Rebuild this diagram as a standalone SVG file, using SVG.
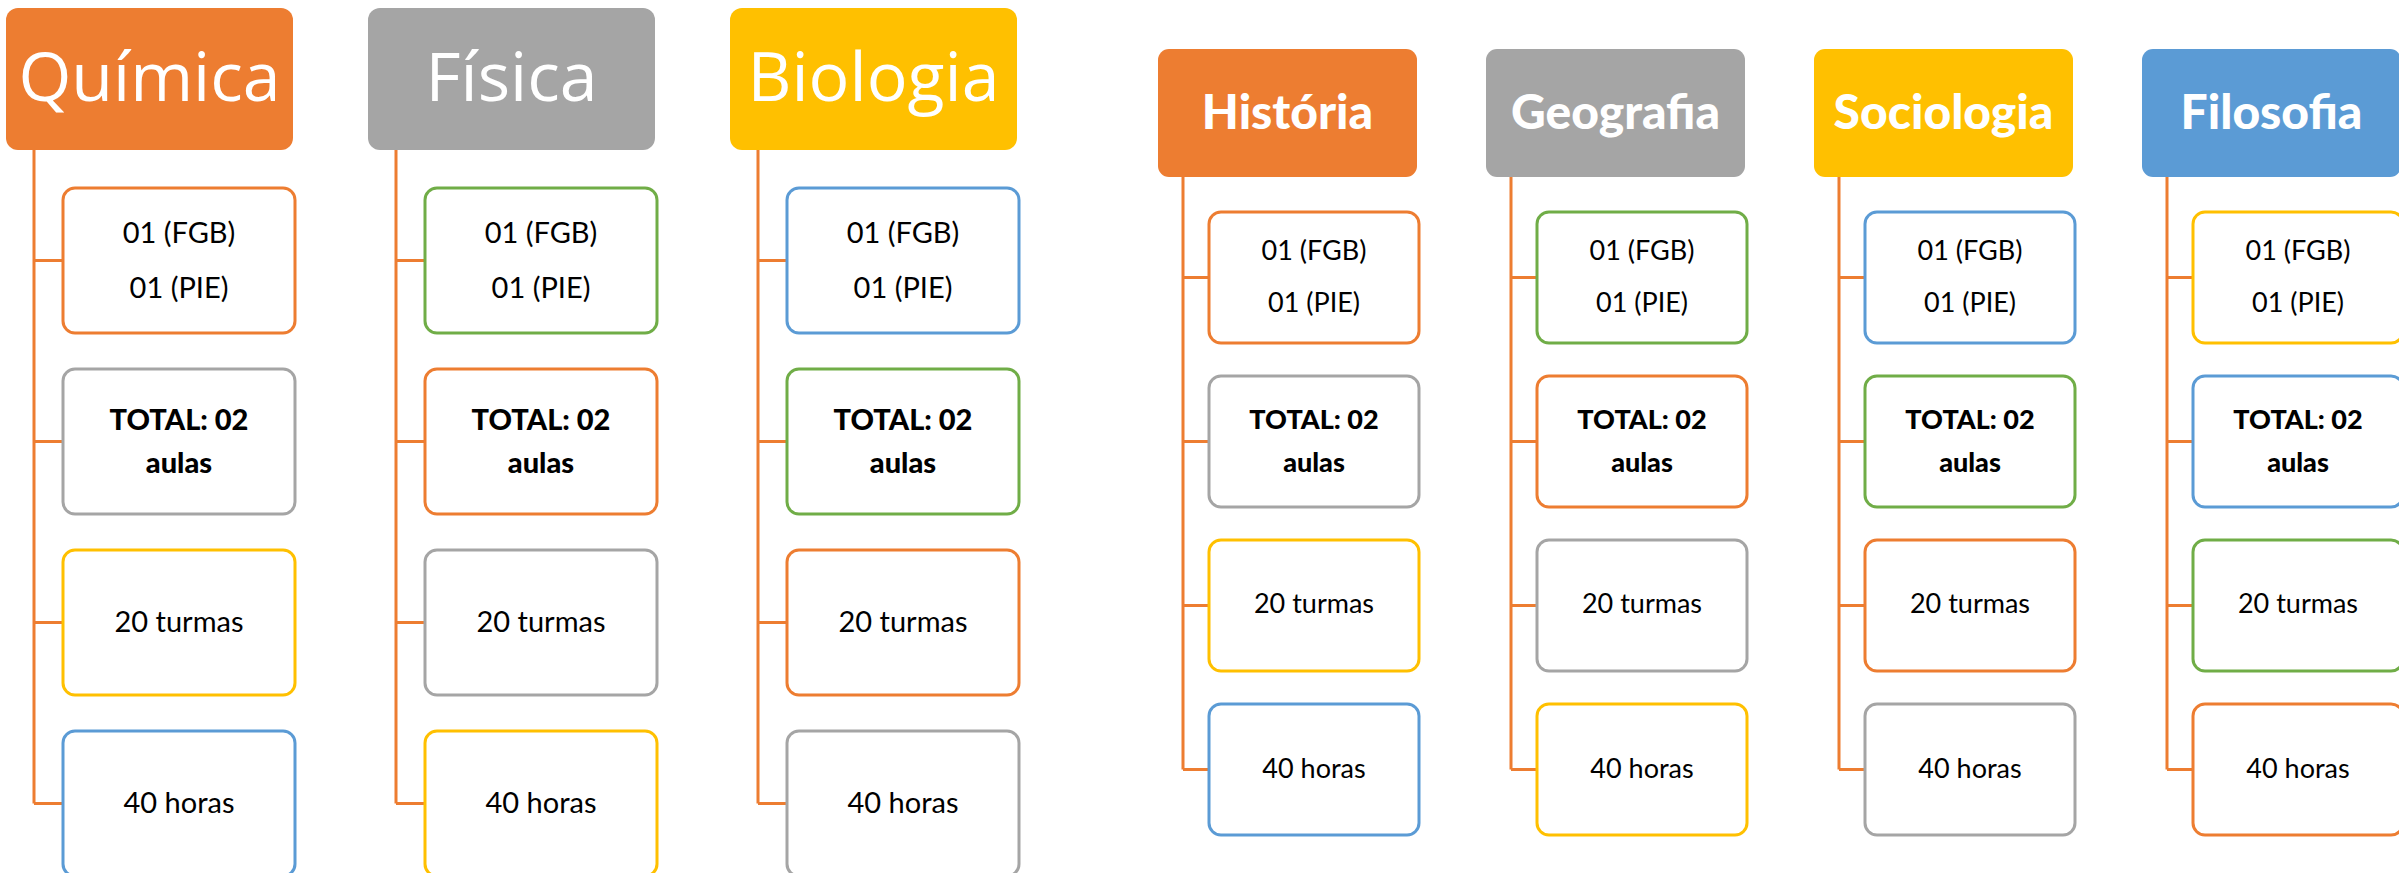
<svg xmlns="http://www.w3.org/2000/svg" width="2399" height="873" viewBox="0 0 2399 873">
<style>
.bg{fill:#ffffff}
.o{stroke:#ED7D31}.g{stroke:#A5A5A5}.y{stroke:#FFC000}.b{stroke:#5B9BD5}.gr{stroke:#70AD47}
.fo{fill:#ED7D31}.fg{fill:#A5A5A5}.fy{fill:#FFC000}.fb{fill:#5B9BD5}
.box{fill:#ffffff;stroke-width:3}
.ln{stroke:#ED7D31;stroke-width:3;fill:none}
.h1{font-family:"Open Sans","Noto Sans",sans-serif;font-size:68px;fill:#ffffff;text-anchor:middle}
.h2{font-family:Lato,"Noto Sans",sans-serif;font-weight:900;font-size:48px;fill:#ffffff;text-anchor:middle}
.t1{font-family:Lato,"Noto Sans",sans-serif;font-size:29px;fill:#000000;text-anchor:middle}
.t2{font-family:Lato,"Noto Sans",sans-serif;font-size:27px;fill:#000000;text-anchor:middle}
.bd{font-weight:900}
</style>
<rect class="bg" x="0" y="0" width="2399" height="873"/>
<g id="connectors">
<path class="ln" d="M34 150V803.5M34 260.5H63M34 441.5H63M34 622.5H63M34 803.5H63"/>
<path class="ln" d="M396 150V803.5M396 260.5H425M396 441.5H425M396 622.5H425M396 803.5H425"/>
<path class="ln" d="M758 150V803.5M758 260.5H787M758 441.5H787M758 622.5H787M758 803.5H787"/>
<path class="ln" d="M1183 177V769.5M1183 277.5H1209M1183 441.5H1209M1183 605.5H1209M1183 769.5H1209"/>
<path class="ln" d="M1511 177V769.5M1511 277.5H1537M1511 441.5H1537M1511 605.5H1537M1511 769.5H1537"/>
<path class="ln" d="M1839 177V769.5M1839 277.5H1865M1839 441.5H1865M1839 605.5H1865M1839 769.5H1865"/>
<path class="ln" d="M2167 177V769.5M2167 277.5H2193M2167 441.5H2193M2167 605.5H2193M2167 769.5H2193"/>
</g>
<g id="quimica">
<rect class="fo" x="6" y="8" width="287" height="142" rx="12"/>
<text class="h1" x="149.5" y="101">Química</text>
</g>
<g id="quimica-1"><rect class="box o" x="63" y="188" width="232" height="145" rx="12"/><text class="t1" x="179" y="243">01 (FGB)</text><text class="t1" x="179" y="298">01 (PIE)</text></g>
<g id="quimica-2"><rect class="box g" x="63" y="369" width="232" height="145" rx="12"/><text class="t1 bd" x="179" y="430">TOTAL: 02</text><text class="t1 bd" x="179" y="473">aulas</text></g>
<g id="quimica-3"><rect class="box y" x="63" y="550" width="232" height="145" rx="12"/><text class="t1" x="179" y="632">20 turmas</text></g>
<g id="quimica-4"><rect class="box b" x="63" y="731" width="232" height="145" rx="12"/><text class="t1" x="179" y="813">40 horas</text></g>
<g id="fisica">
<rect class="fg" x="368" y="8" width="287" height="142" rx="12"/>
<text class="h1" x="511.5" y="101">Física</text>
</g>
<g id="fisica-1"><rect class="box gr" x="425" y="188" width="232" height="145" rx="12"/><text class="t1" x="541" y="243">01 (FGB)</text><text class="t1" x="541" y="298">01 (PIE)</text></g>
<g id="fisica-2"><rect class="box o" x="425" y="369" width="232" height="145" rx="12"/><text class="t1 bd" x="541" y="430">TOTAL: 02</text><text class="t1 bd" x="541" y="473">aulas</text></g>
<g id="fisica-3"><rect class="box g" x="425" y="550" width="232" height="145" rx="12"/><text class="t1" x="541" y="632">20 turmas</text></g>
<g id="fisica-4"><rect class="box y" x="425" y="731" width="232" height="145" rx="12"/><text class="t1" x="541" y="813">40 horas</text></g>
<g id="biologia">
<rect class="fy" x="730" y="8" width="287" height="142" rx="12"/>
<text class="h1" x="873.5" y="101">Biologia</text>
</g>
<g id="biologia-1"><rect class="box b" x="787" y="188" width="232" height="145" rx="12"/><text class="t1" x="903" y="243">01 (FGB)</text><text class="t1" x="903" y="298">01 (PIE)</text></g>
<g id="biologia-2"><rect class="box gr" x="787" y="369" width="232" height="145" rx="12"/><text class="t1 bd" x="903" y="430">TOTAL: 02</text><text class="t1 bd" x="903" y="473">aulas</text></g>
<g id="biologia-3"><rect class="box o" x="787" y="550" width="232" height="145" rx="12"/><text class="t1" x="903" y="632">20 turmas</text></g>
<g id="biologia-4"><rect class="box g" x="787" y="731" width="232" height="145" rx="12"/><text class="t1" x="903" y="813">40 horas</text></g>
<g id="historia">
<rect class="fo" x="1158" y="49" width="259" height="128" rx="11"/>
<text class="h2" x="1287.5" y="129">História</text>
</g>
<g id="historia-1"><rect class="box o" x="1209" y="212" width="210" height="131" rx="12"/><text class="t2" x="1314" y="260">01 (FGB)</text><text class="t2" x="1314" y="312">01 (PIE)</text></g>
<g id="historia-2"><rect class="box g" x="1209" y="376" width="210" height="131" rx="12"/><text class="t2 bd" x="1314" y="429">TOTAL: 02</text><text class="t2 bd" x="1314" y="472">aulas</text></g>
<g id="historia-3"><rect class="box y" x="1209" y="540" width="210" height="131" rx="12"/><text class="t2" x="1314" y="613">20 turmas</text></g>
<g id="historia-4"><rect class="box b" x="1209" y="704" width="210" height="131" rx="12"/><text class="t2" x="1314" y="778">40 horas</text></g>
<g id="geografia">
<rect class="fg" x="1486" y="49" width="259" height="128" rx="11"/>
<text class="h2" x="1615.5" y="129">Geografia</text>
</g>
<g id="geografia-1"><rect class="box gr" x="1537" y="212" width="210" height="131" rx="12"/><text class="t2" x="1642" y="260">01 (FGB)</text><text class="t2" x="1642" y="312">01 (PIE)</text></g>
<g id="geografia-2"><rect class="box o" x="1537" y="376" width="210" height="131" rx="12"/><text class="t2 bd" x="1642" y="429">TOTAL: 02</text><text class="t2 bd" x="1642" y="472">aulas</text></g>
<g id="geografia-3"><rect class="box g" x="1537" y="540" width="210" height="131" rx="12"/><text class="t2" x="1642" y="613">20 turmas</text></g>
<g id="geografia-4"><rect class="box y" x="1537" y="704" width="210" height="131" rx="12"/><text class="t2" x="1642" y="778">40 horas</text></g>
<g id="sociologia">
<rect class="fy" x="1814" y="49" width="259" height="128" rx="11"/>
<text class="h2" x="1943.5" y="129">Sociologia</text>
</g>
<g id="sociologia-1"><rect class="box b" x="1865" y="212" width="210" height="131" rx="12"/><text class="t2" x="1970" y="260">01 (FGB)</text><text class="t2" x="1970" y="312">01 (PIE)</text></g>
<g id="sociologia-2"><rect class="box gr" x="1865" y="376" width="210" height="131" rx="12"/><text class="t2 bd" x="1970" y="429">TOTAL: 02</text><text class="t2 bd" x="1970" y="472">aulas</text></g>
<g id="sociologia-3"><rect class="box o" x="1865" y="540" width="210" height="131" rx="12"/><text class="t2" x="1970" y="613">20 turmas</text></g>
<g id="sociologia-4"><rect class="box g" x="1865" y="704" width="210" height="131" rx="12"/><text class="t2" x="1970" y="778">40 horas</text></g>
<g id="filosofia">
<rect class="fb" x="2142" y="49" width="259" height="128" rx="11"/>
<text class="h2" x="2271.5" y="129">Filosofia</text>
</g>
<g id="filosofia-1"><rect class="box y" x="2193" y="212" width="210" height="131" rx="12"/><text class="t2" x="2298" y="260">01 (FGB)</text><text class="t2" x="2298" y="312">01 (PIE)</text></g>
<g id="filosofia-2"><rect class="box b" x="2193" y="376" width="210" height="131" rx="12"/><text class="t2 bd" x="2298" y="429">TOTAL: 02</text><text class="t2 bd" x="2298" y="472">aulas</text></g>
<g id="filosofia-3"><rect class="box gr" x="2193" y="540" width="210" height="131" rx="12"/><text class="t2" x="2298" y="613">20 turmas</text></g>
<g id="filosofia-4"><rect class="box o" x="2193" y="704" width="210" height="131" rx="12"/><text class="t2" x="2298" y="778">40 horas</text></g>
</svg>
